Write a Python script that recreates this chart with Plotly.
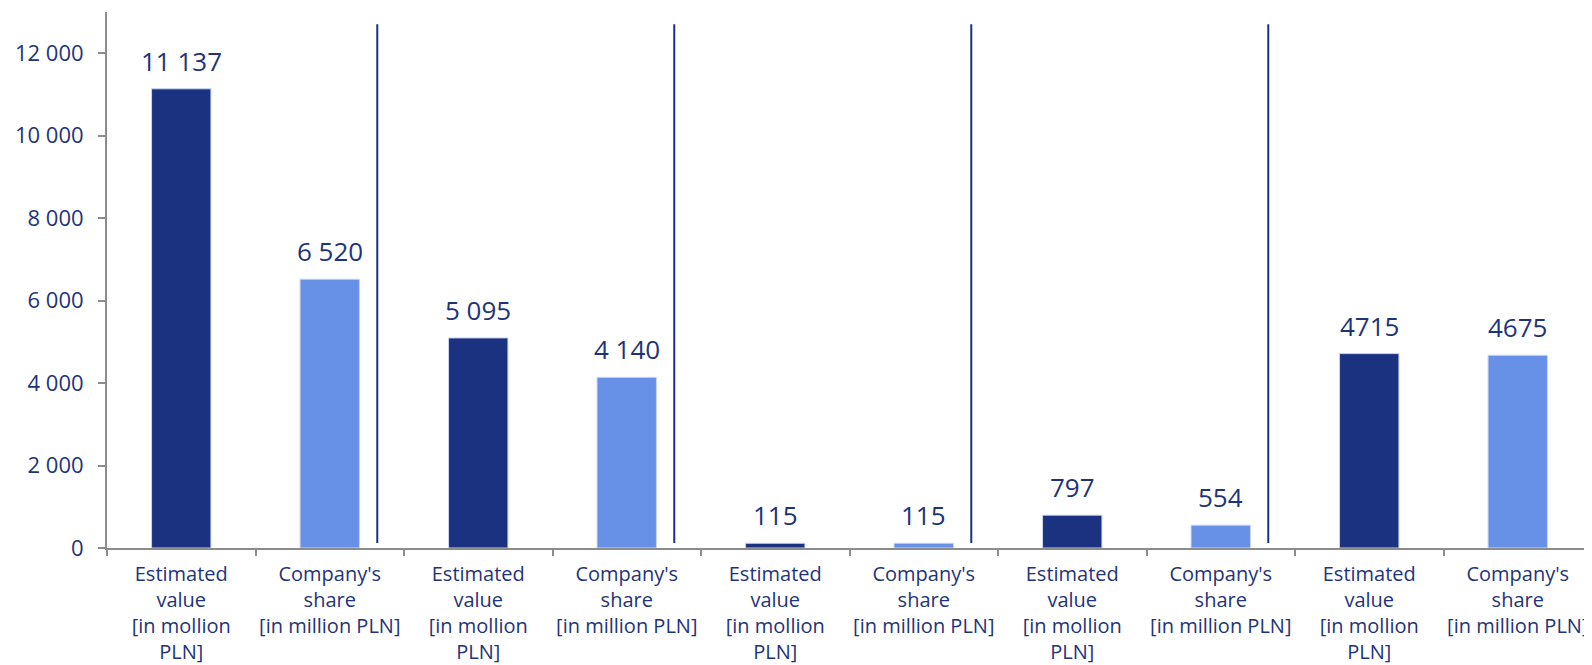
import plotly.graph_objects as go

categories = [
    "Estimated<br>value<br>[in mollion<br>PLN]",
    "Company's<br>share<br>[in million PLN]",
] * 5
values = [11137, 6520, 5095, 4140, 115, 115, 797, 554, 4715, 4675]
value_labels = ["11 137", "6 520", "5 095", "4 140", "115", "115", "797", "554", "4715", "4675"]
y_ticks = [0, 2000, 4000, 6000, 8000, 10000, 12000]
y_tick_labels = ["0", "2 000", "4 000", "6 000", "8 000", "10 000", "12 000"]

DARK = "#1B3280"
LIGHT = "#6691E6"
TEXT = "#1F3478"
FONT = "Open Sans"

x = list(range(len(values)))
colors = [DARK if i % 2 == 0 else LIGHT for i in x]

fig = go.Figure()
fig.add_trace(go.Bar(
    x=x, y=values, width=0.4,
    marker=dict(color=colors, line=dict(color="#C9D6F2", width=1)),
    showlegend=False, hoverinfo="skip",
))
# invisible trace on secondary x axis for boundary ticks
fig.add_trace(go.Scatter(x=[-0.5, 9.5], y=[0, 0], xaxis="x2", mode="markers",
                         marker=dict(opacity=0), showlegend=False, hoverinfo="skip"))

for xi, v, t in zip(x, values, value_labels):
    fig.add_annotation(x=xi, y=v, text=t, showarrow=False, yanchor="bottom", yshift=8,
                       font=dict(size=26, color=TEXT, family=FONT))

# separators between groups
for g in range(4):
    xs = 2 * g + 1 + 0.32
    fig.add_shape(type="line", xref="x", yref="y", x0=xs, x1=xs, y0=120, y1=12700,
                  line=dict(color=DARK, width=2))

fig.update_layout(
    width=1584, height=657,
    margin=dict(l=99, r=0, t=4, b=117),
    plot_bgcolor="white", paper_bgcolor="white",
    font=dict(family=FONT, color=TEXT, size=20),
    xaxis=dict(range=[-0.5, 9.5], tickmode="array", tickvals=x, ticktext=categories,
               ticks="", showline=False, showgrid=False, zeroline=False, automargin=False,
               ticklabelstandoff=12,
               tickfont=dict(size=20, color=TEXT, family=FONT)),
    xaxis2=dict(range=[-0.5, 9.5], overlaying="x", side="bottom", anchor="y",
                tickmode="array", tickvals=[i - 0.5 for i in range(11)],
                ticktext=[""] * 11, ticks="outside", ticklen=6, tickcolor="#8C8C8C",
                tickwidth=2, showline=True, linecolor="#8C8C8C", linewidth=2,
                showgrid=False, zeroline=False, automargin=False),
    yaxis=dict(range=[0, 13000], tickmode="array", tickvals=y_ticks, ticktext=y_tick_labels,
               ticks="outside", ticklen=7, tickcolor="#8C8C8C", tickwidth=2,
               showline=True, linecolor="#8C8C8C", linewidth=2, showgrid=False,
               zeroline=False, automargin=False, ticklabelstandoff=10,
               tickfont=dict(size=22, color=TEXT, family=FONT)),
)

fig.write_html("out.html")
